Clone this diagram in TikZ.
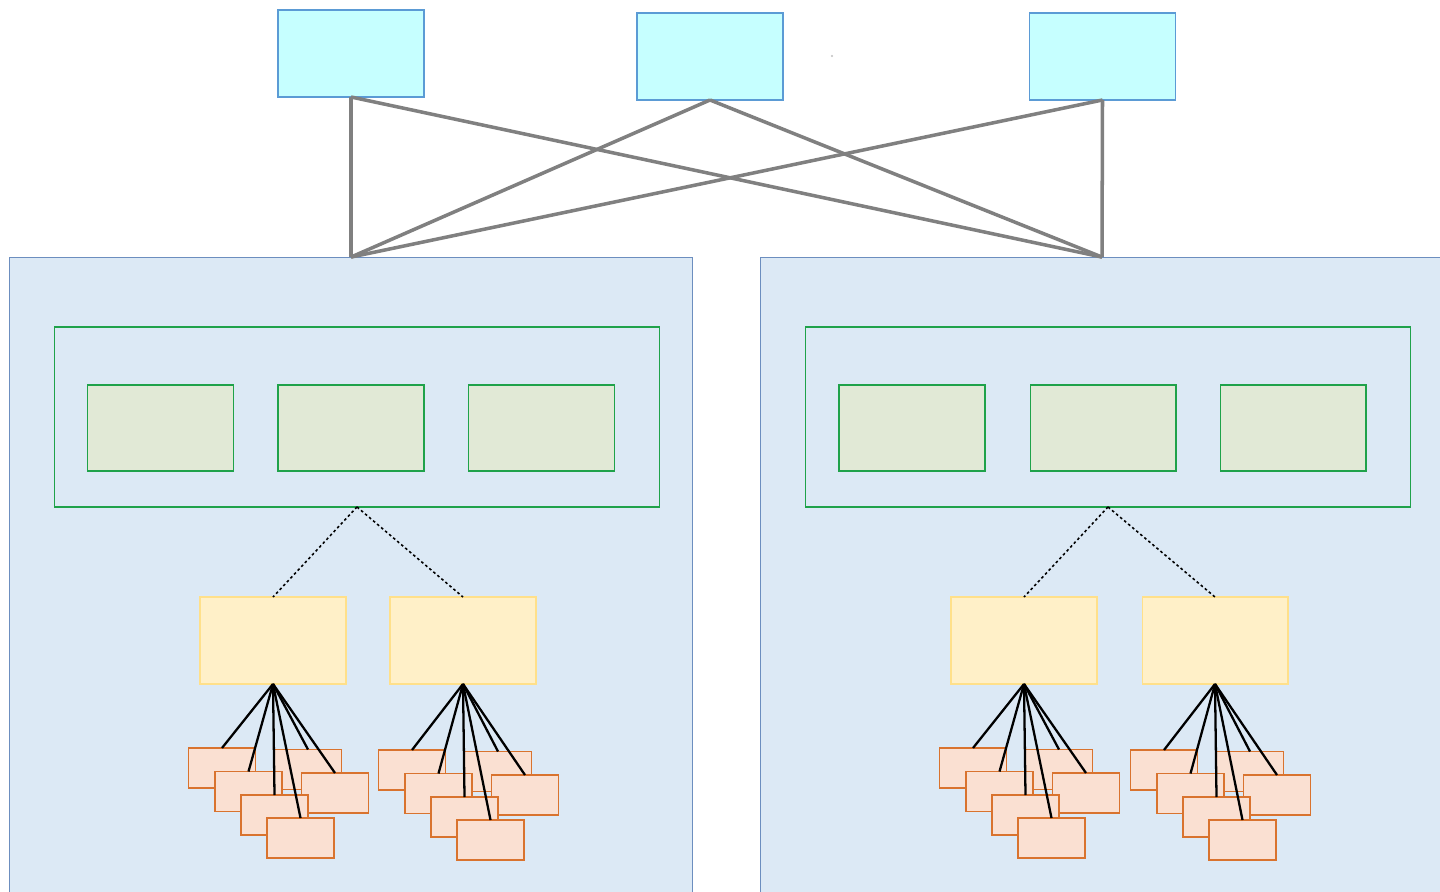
\documentclass[tikz,border=0pt]{standalone}
\usepackage{xcolor}
\usepackage{tikz}
\definecolor{dcblue}{HTML}{DCE9F5}
\definecolor{dcbluedraw}{HTML}{6C8EBF}
\definecolor{spcyan}{HTML}{C6FFFF}
\definecolor{spcyandraw}{HTML}{5B9BD5}
\definecolor{grpgreen}{HTML}{1FA24A}
\definecolor{grpfill}{HTML}{E1E9D6}
\definecolor{leafyel}{HTML}{FFF0C8}
\definecolor{leafyeldraw}{HTML}{FFE08A}
\definecolor{hostfill}{HTML}{FAE0D2}
\definecolor{hostdraw}{HTML}{D9732E}

\begin{document}
\begin{tikzpicture}[x=0.02cm,y=-0.02cm,
  every node/.style={inner sep=0pt,outer sep=0pt},
  spine/.style={draw=spcyandraw,fill=spcyan,line width=0.6pt,minimum width=2.92cm,minimum height=1.74cm},
  dcbox/.style={draw=dcbluedraw,fill=dcblue,line width=0.6pt,minimum width=13.68cm,minimum height=14.86cm},
  grpbox/.style={draw=grpgreen,line width=0.6pt,minimum width=12.12cm,minimum height=3.6cm},
  grpitem/.style={draw=grpgreen,fill=grpfill,line width=0.6pt,minimum width=2.92cm,minimum height=1.72cm},
  leafbox/.style={draw=leafyeldraw,fill=leafyel,line width=0.6pt,minimum width=2.92cm,minimum height=1.74cm},
  hostbox/.style={draw=hostdraw,fill=hostfill,line width=0.6pt,minimum width=1.34cm,minimum height=0.8cm},
  uplink/.style={draw=gray,line width=2pt},
  grplink/.style={draw=black,line width=0.9pt,dash pattern=on 1.5pt off 1.5pt},
  hostlink/.style={draw=black,line width=1.3pt}]
  \useasboundingbox (0,0) rectangle (1440,892);
  \clip (0,0) rectangle (1440,892);
  \fill[white] (0,0) rectangle (1440,892);

  % data centres
  \node[dcbox] (dcl) at (351,628.5) {};
  \node[dcbox] (dcr) at (1102,628.5) {};

  % spines
  \node[spine] (sp1) at (351,53.5) {};
  \node[spine] (sp2) at (710,56.5) {};
  \node[spine] (sp3) at (1102.5,56.5) {};
  \fill[gray!50] (832,56) circle (0.7pt);

  \draw[uplink] (sp1.south) -- (dcl.north);
  \draw[uplink] (sp1.south) -- (dcr.north);
  \draw[uplink] (sp2.south) -- (dcl.north);
  \draw[uplink] (sp2.south) -- (dcr.north);
  \draw[uplink] (sp3.south) -- (dcl.north);
  \draw[uplink] (sp3.south) -- (dcr.north);

  % groups
  \node[grpbox] (gl) at (357,417) {};
  \node[grpitem] (gl1) at (160.5,428) {};
  \node[grpitem] (gl2) at (351,428) {};
  \node[grpitem] (gl3) at (541.5,428) {};
  \node[grpbox] (gr) at (1108,417) {};
  \node[grpitem] (gr1) at (912,428) {};
  \node[grpitem] (gr2) at (1103,428) {};
  \node[grpitem] (gr3) at (1293,428) {};

  % leaves
  \node[leafbox] (lf1) at (273,640.5) {};
  \node[leafbox] (lf2) at (463,640.5) {};
  \node[leafbox] (lf3) at (1024,640.5) {};
  \node[leafbox] (lf4) at (1215,640.5) {};
  \draw[grplink] (gl.south) -- (lf1.north);
  \draw[grplink] (gl.south) -- (lf2.north);
  \draw[grplink] (gr.south) -- (lf3.north);
  \draw[grplink] (gr.south) -- (lf4.north);

  % hosts under leaf 1
  \node[hostbox] (h1a) at (222,768) {};
  \node[hostbox] (h1b) at (308,769.5) {};
  \node[hostbox] (h1c) at (248.5,791.5) {};
  \node[hostbox] (h1d) at (335,793) {};
  \node[hostbox] (h1e) at (274.5,815) {};
  \node[hostbox] (h1f) at (300.5,838) {};
  % hosts under leaf 2
  \node[hostbox] (h2a) at (412,770) {};
  \node[hostbox] (h2b) at (498,771.5) {};
  \node[hostbox] (h2c) at (438.5,793.5) {};
  \node[hostbox] (h2d) at (525,795) {};
  \node[hostbox] (h2e) at (464.5,817) {};
  \node[hostbox] (h2f) at (490.5,840) {};
  % hosts under leaf 3
  \node[hostbox] (h3a) at (973,768) {};
  \node[hostbox] (h3b) at (1059,769.5) {};
  \node[hostbox] (h3c) at (999.5,791.5) {};
  \node[hostbox] (h3d) at (1086,793) {};
  \node[hostbox] (h3e) at (1025.5,815) {};
  \node[hostbox] (h3f) at (1051.5,838) {};
  % hosts under leaf 4
  \node[hostbox] (h4a) at (1164,770) {};
  \node[hostbox] (h4b) at (1250,771.5) {};
  \node[hostbox] (h4c) at (1190.5,793.5) {};
  \node[hostbox] (h4d) at (1277,795) {};
  \node[hostbox] (h4e) at (1216.5,817) {};
  \node[hostbox] (h4f) at (1242.5,840) {};

  \draw[hostlink] (lf1.south) -- (h1a.north);
  \draw[hostlink] (lf1.south) -- (h1b.north);
  \draw[hostlink] (lf1.south) -- (h1c.north);
  \draw[hostlink] (lf1.south) -- (h1d.north);
  \draw[hostlink] (lf1.south) -- (h1e.north);
  \draw[hostlink] (lf1.south) -- (h1f.north);
  \draw[hostlink] (lf2.south) -- (h2a.north);
  \draw[hostlink] (lf2.south) -- (h2b.north);
  \draw[hostlink] (lf2.south) -- (h2c.north);
  \draw[hostlink] (lf2.south) -- (h2d.north);
  \draw[hostlink] (lf2.south) -- (h2e.north);
  \draw[hostlink] (lf2.south) -- (h2f.north);
  \draw[hostlink] (lf3.south) -- (h3a.north);
  \draw[hostlink] (lf3.south) -- (h3b.north);
  \draw[hostlink] (lf3.south) -- (h3c.north);
  \draw[hostlink] (lf3.south) -- (h3d.north);
  \draw[hostlink] (lf3.south) -- (h3e.north);
  \draw[hostlink] (lf3.south) -- (h3f.north);
  \draw[hostlink] (lf4.south) -- (h4a.north);
  \draw[hostlink] (lf4.south) -- (h4b.north);
  \draw[hostlink] (lf4.south) -- (h4c.north);
  \draw[hostlink] (lf4.south) -- (h4d.north);
  \draw[hostlink] (lf4.south) -- (h4e.north);
  \draw[hostlink] (lf4.south) -- (h4f.north);
\end{tikzpicture}
\end{document}
